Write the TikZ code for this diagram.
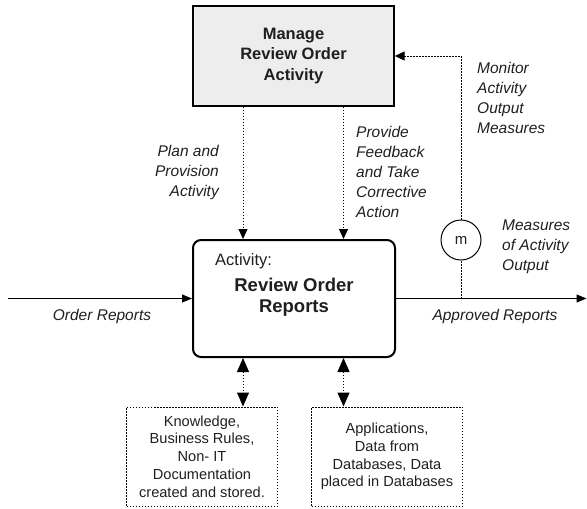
\documentclass[tikz,border=0pt]{standalone}
\usepackage{fontspec}
\setmainfont{Liberation Sans}
\usetikzlibrary{arrows.meta,calc}

\begin{document}
\begin{tikzpicture}[x=1pt,y=-1pt,
  font=\fontsize{15.5}{20}\selectfont,
  txt/.style={text=black!88},
  lbl/.style={txt,font=\fontsize{15.5}{20}\selectfont\itshape,inner sep=0pt},
  flow/.style={line width=1pt,-{Triangle[length=10pt,width=8pt]}},
  ctrl/.style={line width=1pt,dash pattern=on 1.5pt off 1.5pt,-{Triangle[length=10pt,width=9pt]}},
  mech/.style={line width=1pt,dash pattern=on 1.5pt off 1.5pt,{Triangle[length=14pt,width=12pt]}-{Triangle[length=14pt,width=12pt]}},
  resbox/.style={draw,line width=1pt,dash pattern=on 1.5pt off 1.5pt,minimum width=151pt,minimum height=99pt,
    align=center,txt,font=\fontsize{14.6}{17.8}\selectfont}]

\useasboundingbox (0,0) rectangle (587,509);

% control (management) activity
\node[draw,line width=1.4pt,fill=black!7,minimum width=201pt,minimum height=100pt,
      align=center,txt,font=\fontsize{16.5}{20.5}\selectfont\bfseries] (mgr) at (293.5,56)
      {Manage\\Review Order\\Activity};

% the activity itself
\node[draw,line width=2pt,rounded corners=8pt,minimum width=202pt,minimum height=117pt] (act) at (294,298.5) {};
\node[txt,anchor=west,inner sep=0pt,font=\fontsize{16.5}{20}\selectfont] (actlbl) at (215,261) {Activity:};
\node[txt,align=center,inner sep=0pt,font=\fontsize{18.5}{21}\selectfont\bfseries] (acttitle) at (294,297.5) {Review Order\\Reports};

% resources
\node[resbox] (kb) at (202,456.5) {Knowledge,\\Business Rules,\\Non- IT\\Documentation\\created and stored.};
\node[resbox] (db) at (387,456.5) {Applications,\\Data from\\Databases, Data\\placed in Databases};

% measurement point
\node[draw,circle,line width=1pt,minimum size=40pt,inner sep=0pt,txt,font=\fontsize{15}{18}\selectfont] (m) at (461,240) {m};

% helper coordinates
\coordinate (xa) at (243,0);
\coordinate (xb) at (343.5,0);
\coordinate (in) at (8,298.5);
\coordinate (out) at (586.5,298.5);
\coordinate (tap) at (461,298.5);
\coordinate (turn) at (461,56);

% flows
\draw[flow] (in) -- (act.west);
\draw[flow] (act.east) -- (out);

% control arrows
\draw[ctrl] (mgr.south -| xa) -- (act.north -| xa);
\draw[ctrl] (mgr.south -| xb) -- (act.north -| xb);

% monitoring loop
\draw[line width=1pt,dash pattern=on 1.5pt off 1.5pt] (tap) -- (m.south);
\draw[ctrl] (m.north) -- (turn) -- (mgr.east |- turn);

% mechanisms
\draw[mech] (act.south -| xa) -- (kb.north -| xa);
\draw[mech] (act.south -| xb) -- (db.north -| xb);

% labels
\node[lbl,anchor=east,align=right] (l1) at (219,172) {Plan and\\Provision\\Activity};
\node[lbl,anchor=west,align=left] (l2) at (356,172) {Provide\\Feedback\\and Take\\Corrective\\Action};
\node[lbl,anchor=west,align=left] (l3) at (477,97.5) {Monitor\\Activity\\Output\\Measures};
\node[lbl,anchor=west,align=left] (l4) at (502,247) {Measures\\of Activity\\Output};
\node[lbl] (l5) at (102,316) {Order Reports};
\node[lbl] (l6) at (495,316) {Approved Reports};

\end{tikzpicture}
\end{document}
